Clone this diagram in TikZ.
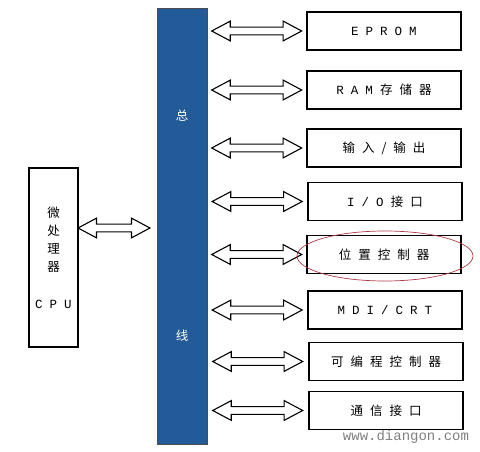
\documentclass[tikz,border=0pt]{standalone}
\usepackage{fontspec}
\usetikzlibrary{shapes.arrows,calc}
\newfontfamily\cjk{Noto Sans CJK SC}
\newfontfamily\lat{Liberation Mono}
\definecolor{busblue}{RGB}{35,91,152}
\definecolor{markred}{RGB}{172,58,70}

\begin{document}
\begin{tikzpicture}[x=1pt,y=-1pt,
    lbl/.style={font={\cjk\fontsize{12.5}{18}\selectfont\spaceskip=7pt\relax}},
    unit/.style={draw, line width=1.6pt, minimum width=154pt, minimum height=38pt, inner sep=0pt, lbl},
    dblarrow/.style={double arrow, draw, line width=1.1pt, fill=white, inner sep=3.3pt,
        double arrow head extend=6pt, double arrow tip angle=56, minimum height=90pt}]
        \useasboundingbox (0,0) rectangle (480,452);

        % Draw the bus
        \node[draw=black!70, fill=busblue, minimum width=50pt, minimum height=436pt, inner sep=0pt] (bus) at (182,226) {};
        \node[lbl, text=white] (busA) at (182,116) {总};
        \node[lbl, text=white] (busB) at (182,336) {线};

        % Draw the microprocessor
        \node[draw, line width=1.6pt, minimum width=49pt, minimum height=179pt, inner sep=0pt, align=center, lbl] (cpu) at (53.5,257.5)
            {微\\处\\理\\器\\[19pt]{\lat C P U}};

        % Draw the units on the bus
        \node[unit] (u1) at (384,31)    {\lat E P R O M};
        \node[unit] (u2) at (384,90)    {{\lat R A M} 存 储 器};
        \node[unit] (u3) at (384,148)   {输 入 / 输 出};
        \node[unit] (u4) at (385,201.5) {{\lat I / O} 接 口};
        \node[unit] (u5) at (384,254.5) {位 置 控 制 器};
        \node[unit] (u6) at (385,310)   {\lat M D I / C R T};
        \node[unit] (u7) at (386,361.5) {可 编 程 控 制 器};
        \node[unit] (u8) at (386,410.5) {通 信 接 口};

        % Draw the double arrows
        \node[dblarrow, minimum height=72pt] (a0) at (114,228) {};
        \foreach \i in {1,...,8}
            \node[dblarrow] (a\i) at ($(bus.east |- u\i.west)!0.5!(u\i.west)$) {};

        % Mark the position controller
        \draw[markred, line width=0.7pt] ($(u5.center)+(1,1.5)$) ellipse [x radius=88pt, y radius=25pt];

        % Site name
        \node[text=black!50, font={\lat\fontsize{14}{14}\selectfont}] (site) at (406,437) {www.diangon.com};

        \end{tikzpicture}
\end{document}
